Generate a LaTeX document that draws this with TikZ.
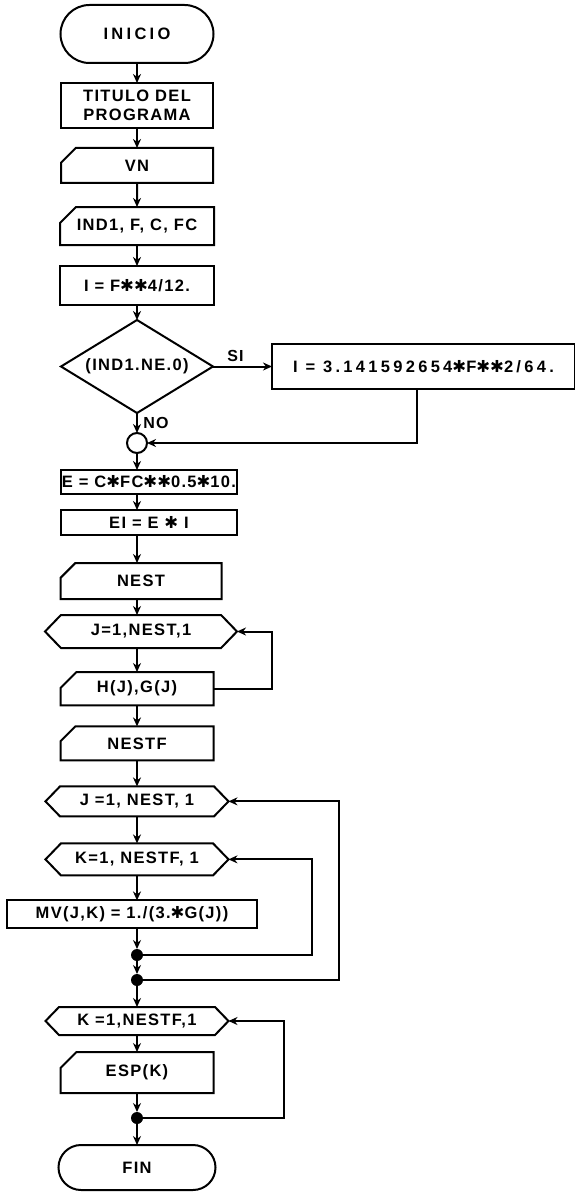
\documentclass[tikz,border=0pt]{standalone}
\usepackage{fontspec}
\usepackage{tikz}
\usetikzlibrary{shapes.geometric, shapes.misc, shapes.symbols, arrows.meta, positioning, calc}
\newfontfamily\letra[LetterSpace=8]{Liberation Sans}
\newfontfamily\letraancha[LetterSpace=20]{Liberation Sans}
\newfontfamily\simbolo{DejaVu Sans}
\newcommand{\por}{{\simbolo\mdseries ✱}}

\begin{document}
\begin{tikzpicture}[
    x=1pt, y=-1pt,
    line width=2pt,
    every node/.append style={outer sep=0pt},
    font=\letra\bfseries\fontsize{16.5}{19}\selectfont,
    terminal/.style={rounded rectangle, draw, inner sep=0pt},
    proceso/.style={rectangle, draw, inner sep=0pt, align=center},
    entrada/.style={chamfered rectangle, chamfered rectangle corners=north west,
                    chamfered rectangle xsep=7pt, chamfered rectangle ysep=9pt,
                    draw, inner sep=0pt},
    ciclo/.style={signal, signal to=west and east, signal pointer angle=92,
                  draw, inner sep=0pt},
    decision/.style={diamond, aspect=1.63, draw, inner sep=0pt},
    conector/.style={circle, draw, minimum size=20pt, inner sep=0pt},
    punto/.style={circle, fill, minimum size=12pt, inner sep=0pt},
    flecha/.style={-{Stealth[length=9pt, width=8pt]}},
    ancha/.style={font=\letraancha\bfseries\fontsize{16.5}{19}\selectfont},
    etiqueta/.style={font=\letra\bfseries\fontsize{16}{18}\selectfont},
]
    \useasboundingbox (0,0) rectangle (575,1193);

    % Inicio y datos
    \node[terminal, ancha, minimum width=153pt, minimum height=58pt] at (137,34) (inicio) {INICIO};
    \node[proceso, minimum width=152pt, minimum height=45pt, below=20pt of inicio] (titulo) {TITULO DEL\\PROGRAMA};
    \node[entrada, minimum width=152pt, minimum height=35pt, below=20pt of titulo] (vn) {VN};
    \node[entrada, minimum width=154pt, minimum height=38pt, below=24pt of vn] (datos) {IND1, F, C, FC};
    \node[proceso, minimum width=154pt, minimum height=39pt, below=21pt of datos] (inercia) {I = F\por\por4/12.};

    % Decision
    \node[decision, minimum width=152pt, minimum height=93pt, below=15pt of inercia] (dec) {(IND1.NE.0)};
    \node[proceso, ancha, minimum width=303pt, minimum height=45pt, right=59pt of dec] (circular) {I = 3.141592654\por F\por\por2/64.};
    \node[conector, below=20pt of dec] (con) {};

    % Modulos
    \node[proceso, minimum width=176pt, minimum height=24pt, below=17pt of con, xshift=12pt] (modulo) {E = C\por FC\por\por0.5\por10.};
    \node[proceso, minimum width=176pt, minimum height=25pt, below=16pt of modulo] (rigidez) {EI = E \por{} I};
    \node[entrada, minimum width=161pt, minimum height=36pt, below=28pt of rigidez, xshift=-8pt] (nest) {NEST};

    % Primer ciclo
    \node[ciclo, minimum width=192pt, minimum height=33pt, below=16pt of nest] (cicloa) {J=1,NEST,1};
    \node[entrada, minimum width=153pt, minimum height=30pt, below=24pt of cicloa, xshift=-4pt] (hg) {H(J),G(J)};
    \node[entrada, minimum width=153pt, minimum height=34pt, below=21pt of hg] (nestf) {NESTF};

    % Ciclos anidados
    \node[ciclo, minimum width=183pt, minimum height=30pt, below=26pt of nestf] (ciclob) {J =1, NEST, 1};
    \node[ciclo, minimum width=183pt, minimum height=32pt, below=27pt of ciclob] (cicloc) {K=1, NESTF, 1};
    \node[proceso, minimum width=250pt, minimum height=28pt, below=25pt of cicloc, xshift=-5pt] (mv) {MV(J,K) = 1./(3.\por G(J))};
    \node[punto] at (137,955) (puntoa) {};
    \node[punto, below=13pt of puntoa] (puntob) {};

    % Ultimo ciclo
    \node[ciclo, minimum width=183pt, minimum height=28pt, below=21pt of puntob] (ciclod) {K =1,NESTF,1};
    \node[entrada, minimum width=153pt, minimum height=41pt, below=17pt of ciclod] (esp) {ESP(K)};
    \node[punto, below=19pt of esp] (puntoc) {};
    \node[terminal, minimum width=157pt, minimum height=45pt, below=21pt of puntoc] (fin) {FIN};

    % Flujo principal
    \draw[flecha] (inicio) -- (titulo);
    \draw[flecha] (titulo) -- (vn);
    \draw[flecha] (vn) -- (datos);
    \draw[flecha] (datos) -- (inercia);
    \draw[flecha] (inercia) -- (dec);
    \draw[flecha] (dec) -- node[midway, above, xshift=-7pt, yshift=2pt, etiqueta] {SI} (circular);
    \draw[flecha] (dec) -- node[midway, right, xshift=3pt, etiqueta] {NO} (con);
    \draw[flecha] ($(circular.south)+(-7,0)$) |- (con);
    \draw[flecha] (con) -- (modulo.north -| con);
    \draw[flecha] (modulo.south -| con) -- (rigidez.north -| con);
    \draw[flecha] (rigidez.south -| con) -- (nest.north -| con);
    \draw[flecha] (nest.south -| con) -- (cicloa.north -| con);
    \draw[flecha] (cicloa.south -| con) -- (hg.north -| con);
    \draw[flecha] (hg.south -| con) -- (nestf.north -| con);
    \draw[flecha] (nestf.south -| con) -- (ciclob.north -| con);
    \draw[flecha] (ciclob.south -| con) -- (cicloc.north -| con);
    \draw[flecha] (cicloc.south -| con) -- (mv.north -| con);
    \draw[flecha] (mv.south -| con) -- (puntoa);
    \draw[flecha] (puntoa) -- (puntob);
    \draw[flecha] (puntob) -- (ciclod.north -| con);
    \draw[flecha] (ciclod.south -| con) -- (esp.north -| con);
    \draw[flecha] (esp.south -| con) -- (puntoc);
    \draw[flecha] (puntoc) -- (fin.north -| con);

    % Retornos de los ciclos
    \draw[flecha] (hg.east) -| ($(cicloa.east)+(35,0)$) -- (cicloa.east);
    \draw[flecha] (puntob.east) -| ($(ciclob.east)+(110,0)$) -- (ciclob.east);
    \draw[flecha] (puntoa.east) -| ($(cicloc.east)+(83,0)$) -- (cicloc.east);
    \draw[flecha] (puntoc.east) -| ($(ciclod.east)+(55,0)$) -- (ciclod.east);
\end{tikzpicture}
\end{document}
